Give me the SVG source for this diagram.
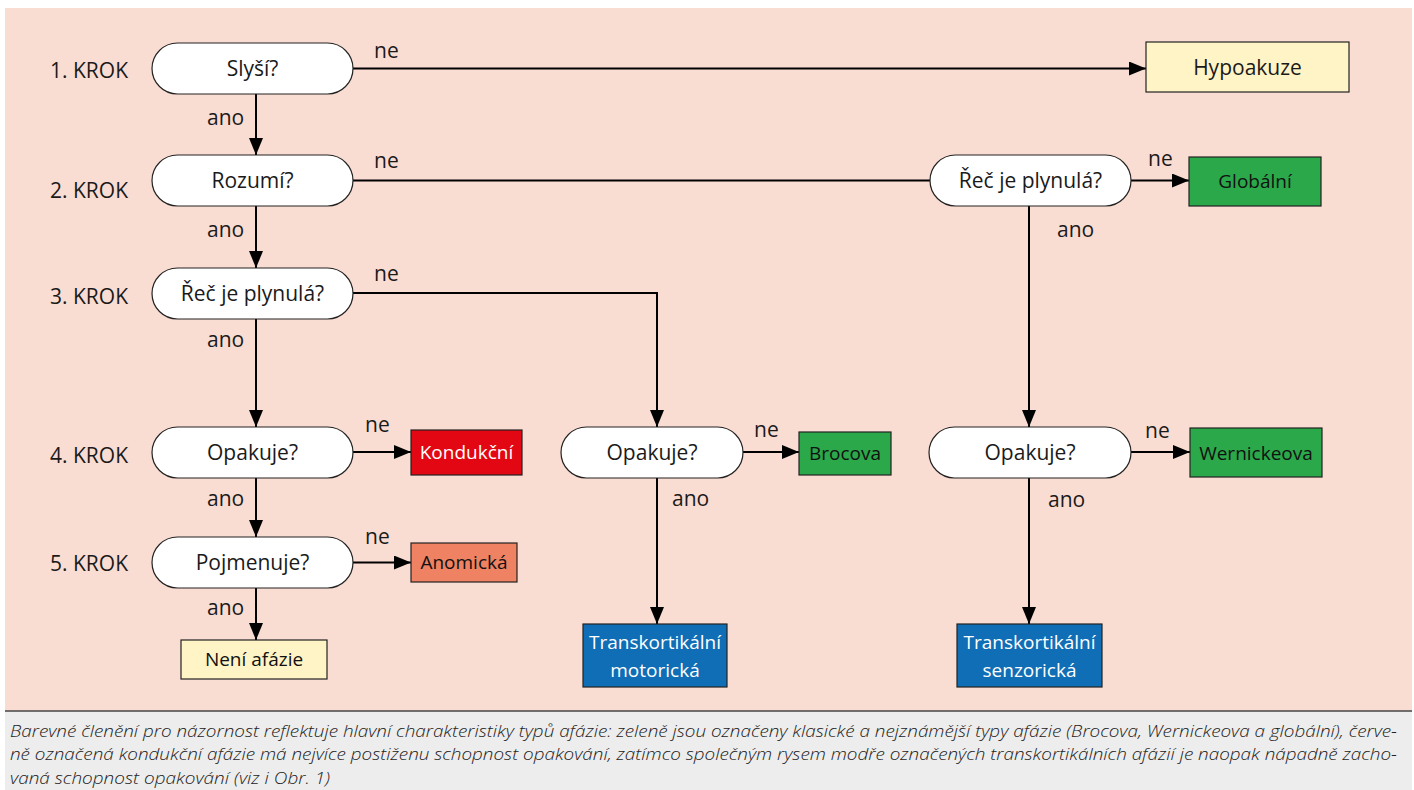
<svg xmlns="http://www.w3.org/2000/svg" width="1414" height="790" viewBox="0 0 1414 790">
<style>
.t{font-family:"Open Sans","Liberation Sans",sans-serif;font-size:21px;fill:#1a1a1a}
.m{text-anchor:middle}
.b{font-family:"Open Sans","Liberation Sans",sans-serif;font-size:19px;text-anchor:middle}
.st{fill:#fff;stroke:#222;stroke-width:1.2}
.bx{stroke:#222;stroke-width:1.2}
.ln{fill:none;stroke:#000;stroke-width:2}
.cap{font-family:"Open Sans","Liberation Sans",sans-serif;font-size:17px;font-style:italic;font-weight:300;fill:#222}
</style>
<defs>
<marker id="ah" markerUnits="userSpaceOnUse" markerWidth="18" markerHeight="14" refX="17" refY="7" orient="auto">
<path d="M0,0 L17,7 L0,14 Z" fill="#000"/>
</marker>
</defs>
<rect x="0" y="0" width="1414" height="790" fill="#fff"/>
<rect x="5" y="8" width="1407" height="703" fill="#FADDD2"/>
<rect x="5" y="711" width="1407" height="79" fill="#EDEDED"/>
<line x1="5" y1="711" x2="1412" y2="711" stroke="#444" stroke-width="1.5"/>

<g id="steps" class="t">
<text x="50" y="78">1. KROK</text>
<text x="50" y="198">2. KROK</text>
<text x="50" y="304">3. KROK</text>
<text x="50" y="463">4. KROK</text>
<text x="50" y="571">5. KROK</text>
</g>

<g id="connectors">
<line class="ln" x1="353" y1="68.5" x2="1146" y2="68.5" marker-end="url(#ah)"/>
<line class="ln" x1="256" y1="94" x2="256" y2="155" marker-end="url(#ah)"/>
<line class="ln" x1="353" y1="180.5" x2="930" y2="180.5"/>
<line class="ln" x1="1131" y1="180.5" x2="1189" y2="180.5" marker-end="url(#ah)"/>
<line class="ln" x1="1029" y1="206" x2="1029" y2="427" marker-end="url(#ah)"/>
<line class="ln" x1="256" y1="206" x2="256" y2="268" marker-end="url(#ah)"/>
<polyline class="ln" points="353,293 657,293 657,427" marker-end="url(#ah)"/>
<line class="ln" x1="256" y1="318" x2="256" y2="427" marker-end="url(#ah)"/>
<line class="ln" x1="353" y1="452" x2="411" y2="452" marker-end="url(#ah)"/>
<line class="ln" x1="256" y1="477" x2="256" y2="537" marker-end="url(#ah)"/>
<line class="ln" x1="353" y1="562.5" x2="411" y2="562.5" marker-end="url(#ah)"/>
<line class="ln" x1="256" y1="588" x2="256" y2="640" marker-end="url(#ah)"/>
<line class="ln" x1="743" y1="452" x2="799" y2="452" marker-end="url(#ah)"/>
<line class="ln" x1="657" y1="477" x2="657" y2="624" marker-end="url(#ah)"/>
<line class="ln" x1="1131" y1="452" x2="1190" y2="452" marker-end="url(#ah)"/>
<line class="ln" x1="1029" y1="477" x2="1029" y2="624" marker-end="url(#ah)"/>
<g class="t">
<text x="374" y="58">ne</text>
<text x="207" y="125">ano</text>
<text x="374" y="168">ne</text>
<text x="1148" y="166">ne</text>
<text x="207" y="237">ano</text>
<text x="1057" y="237">ano</text>
<text x="374" y="281">ne</text>
<text x="207" y="347">ano</text>
<text x="365" y="432">ne</text>
<text x="754" y="437">ne</text>
<text x="1145" y="438">ne</text>
<text x="207" y="506">ano</text>
<text x="672" y="506">ano</text>
<text x="1048" y="507">ano</text>
<text x="365" y="544">ne</text>
<text x="207" y="615">ano</text>
</g>
</g>

<g id="n-slysi"><rect class="st" x="152" y="43" width="201" height="51" rx="25.5"/><text class="t m" x="252.5" y="76">Slyší?</text></g>
<g id="n-hypoakuze"><rect class="bx" fill="#FFF4C5" x="1146" y="42" width="203" height="50"/><text class="t m" x="1247.5" y="75">Hypoakuze</text></g>
<g id="n-rozumi"><rect class="st" x="152" y="155" width="201" height="51" rx="25.5"/><text class="t m" x="252.5" y="188">Rozumí?</text></g>
<g id="n-rec2"><rect class="st" x="930" y="155" width="201" height="51" rx="25.5"/><text class="t m" x="1030.5" y="188">Řeč je plynulá?</text></g>
<g id="n-globalni"><rect class="bx" fill="#2BA84A" x="1189" y="157" width="132" height="49"/><text class="b" x="1255" y="188" fill="#111">Globální</text></g>
<g id="n-rec3"><rect class="st" x="152" y="268" width="201" height="51" rx="25.5"/><text class="t m" x="252.5" y="301">Řeč je plynulá?</text></g>
<g id="n-opak1"><rect class="st" x="152" y="427" width="201" height="51" rx="25.5"/><text class="t m" x="252.5" y="460">Opakuje?</text></g>
<g id="n-kondukcni"><rect class="bx" fill="#E30613" x="411" y="430" width="111" height="45"/><text class="b" x="466.5" y="459" fill="#fff">Kondukční</text></g>
<g id="n-opak2"><rect class="st" x="561" y="427" width="182" height="51" rx="25.5"/><text class="t m" x="652" y="460">Opakuje?</text></g>
<g id="n-brocova"><rect class="bx" fill="#2BA84A" x="799" y="432" width="92" height="43"/><text class="b" x="845" y="460" fill="#111">Brocova</text></g>
<g id="n-opak3"><rect class="st" x="929" y="427" width="202" height="51" rx="25.5"/><text class="t m" x="1030" y="460">Opakuje?</text></g>
<g id="n-wernickeova"><rect class="bx" fill="#2BA84A" x="1190" y="428" width="132" height="49"/><text class="b" x="1256" y="460" fill="#111">Wernickeova</text></g>
<g id="n-pojmenuje"><rect class="st" x="152" y="537" width="201" height="51" rx="25.5"/><text class="t m" x="252.5" y="570">Pojmenuje?</text></g>
<g id="n-anomicka"><rect class="bx" fill="#EE8262" x="411" y="543" width="106" height="39"/><text class="b" x="464" y="569" fill="#111">Anomická</text></g>
<g id="n-neni"><rect class="bx" fill="#FFF4C5" x="181" y="640" width="146" height="39"/><text class="b" x="254" y="666" fill="#111">Není afázie</text></g>
<g id="n-tmot"><rect class="bx" fill="#0F6EB5" x="583" y="624" width="144" height="63"/><text class="b" x="655" y="649" fill="#fff">Transkortikální</text><text class="b" x="655" y="677" fill="#fff">motorická</text></g>
<g id="n-tsen"><rect class="bx" fill="#0F6EB5" x="957" y="624" width="145" height="63"/><text class="b" x="1029.5" y="649" fill="#fff">Transkortikální</text><text class="b" x="1029.5" y="677" fill="#fff">senzorická</text></g>

<g id="caption" class="cap">
<text x="10" y="737" textLength="1387" lengthAdjust="spacingAndGlyphs">Barevné členění pro názornost reflektuje hlavní charakteristiky typů afázie: zeleně jsou označeny klasické a nejznámější typy afázie (Brocova, Wernickeova a globální), červe-</text>
<text x="10" y="760" textLength="1387" lengthAdjust="spacingAndGlyphs">ně označená kondukční afázie má nejvíce postiženu schopnost opakování, zatímco společným rysem modře označených transkortikálních afázií je naopak nápadně zacho-</text>
<text x="10" y="784" textLength="320" lengthAdjust="spacingAndGlyphs">vaná schopnost opakování (viz i Obr. 1)</text>
</g>
</svg>
